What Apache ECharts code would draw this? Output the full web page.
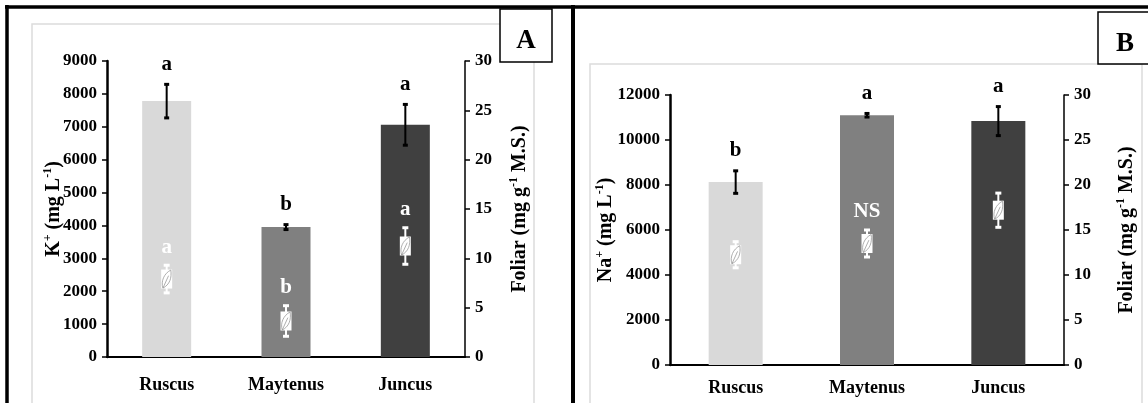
<!DOCTYPE html>
<html>
<head>
<meta charset="utf-8">
<script src="https://cdn.jsdelivr.net/npm/echarts@6/dist/echarts.min.js"></script>
<style>
html, body { margin: 0; padding: 0; background: #fff; }
#main { width: 1148px; height: 403px; }
</style>
</head>
<body>
<div id="main"></div>
<script>
// data
var categories = ['Ruscus', 'Maytenus', 'Juncus'];
var barColors = ['#d9d9d9', '#808080', '#404040'];

// panel A : K+
var kValues = [7780, 3950, 7060];
var kErr = [510, 75, 620];
var kLetters = ['a', 'b', 'a'];
var kFoliar = [7.9, 3.65, 11.25];
var kFoliarErr = [1.4, 1.55, 1.85];
var kFoliarLetters = ['a', 'b', 'a'];
var kMax = 9000, kStep = 1000;

// panel B : Na+
var naValues = [8130, 11100, 10840];
var naErr = [500, 80, 645];
var naLetters = ['b', 'a', 'a'];
var naFoliar = [12.25, 13.5, 17.2];
var naFoliarErr = [1.45, 1.5, 1.9];
var naFoliarLetters = ['', 'NS', ''];
var naMax = 12000, naStep = 2000;

var foliarMax = 30, foliarStep = 5;

var FONT = '"Liberation Serif", "Times New Roman", serif';

// build [index, low, high, mean] rows for error bars
function errRows(vals, errs) {
	return vals.map(function (v, i) { return [i, v - errs[i], v + errs[i], v]; });
}

function barData(vals) {
	return vals.map(function (v, i) {
		return { value: v, itemStyle: { color: barColors[i] } };
	});
}

function nameRich() {
	return {
		b: { fontFamily: FONT, fontWeight: 'bold', fontSize: 20, color: '#000', lineHeight: 24 },
		s: { fontFamily: FONT, fontWeight: 'bold', fontSize: 12, color: '#000', verticalAlign: 'top', lineHeight: 24 }
	};
}

function valueAxis(grid, max, step, pos, name, gap, lineW) {
	return {
		type: 'value', gridIndex: grid, position: pos,
		min: 0, max: max, interval: step,
		name: name, nameLocation: 'middle', nameRotate: 90, nameGap: gap,
		nameMoveOverlap: false,
		nameTextStyle: { rich: nameRich() },
		axisLine: { show: true, lineStyle: { color: '#000', width: lineW } },
		axisTick: { show: true, length: 5, lineStyle: { color: '#000', width: 1.5 } },
		axisLabel: { color: '#000', fontFamily: FONT, fontWeight: 'bold', fontSize: 17, margin: 10,
			formatter: function (v) { return String(v); } },
		splitLine: { show: false }
	};
}

function catAxis(grid, margin) {
	return {
		type: 'category', gridIndex: grid, data: categories,
		axisLine: { lineStyle: { color: '#000', width: 2 } },
		axisTick: { length: 6, lineStyle: { color: '#000', width: 1.5 } },
		axisLabel: { color: '#000', fontFamily: FONT, fontWeight: 'bold', fontSize: 18, margin: margin }
	};
}

// error bar for the main bars, letter above
function barErrRender(letters) {
	return function (params, api) {
		var hi = api.coord([api.value(0), api.value(2)]);
		var lo = api.coord([api.value(0), api.value(1)]);
		var x = hi[0];
		return {
			type: 'group',
			children: [
				{ type: 'line', shape: { x1: x, y1: hi[1], x2: x, y2: lo[1] }, style: { stroke: '#000', lineWidth: 2 } },
				{ type: 'rect', shape: { x: x - 2.5, y: hi[1] - 1.5, width: 5, height: 3 }, style: { fill: '#000' } },
				{ type: 'rect', shape: { x: x - 2.5, y: lo[1] - 1.5, width: 5, height: 3 }, style: { fill: '#000' } },
				{ type: 'text', style: { text: letters[params.dataIndex], x: x, y: hi[1] - 20,
					align: 'center', verticalAlign: 'middle', textAlign: 'center', textVerticalAlign: 'middle',
					fill: '#000', font: 'bold 21px ' + FONT } }
			]
		};
	};
}

// leaf marker for foliar content, white error bar, white letter
function foliarRender(letters) {
	return function (params, api) {
		var hi = api.coord([api.value(0), api.value(2)]);
		var lo = api.coord([api.value(0), api.value(1)]);
		var mid = api.coord([api.value(0), api.value(3)]);
		var x = hi[0];
		return {
			type: 'group',
			children: [
				{ type: 'line', shape: { x1: x, y1: hi[1], x2: x, y2: lo[1] }, style: { stroke: '#fff', lineWidth: 2 } },
				{ type: 'rect', shape: { x: x - 3, y: hi[1] - 1.5, width: 6, height: 3 }, style: { fill: '#fff' } },
				{ type: 'rect', shape: { x: x - 3, y: lo[1] - 1.5, width: 6, height: 3 }, style: { fill: '#fff' } },
				{ type: 'rect', shape: { x: x - 5.5, y: mid[1] - 9.5, width: 11, height: 19 }, style: { fill: '#fff' } },
				{ type: 'path', shape: { pathData: 'M2 17 C0 11 3 4 9 1 C10 8 8 14 2 17 Z M2 17 L7 6',
					x: x - 5, y: mid[1] - 9, width: 10, height: 18 },
					style: { fill: 'none', stroke: '#9a9a9a', lineWidth: 0.8 } },
				{ type: 'text', style: { text: letters[params.dataIndex], x: x, y: hi[1] - 18,
					align: 'center', verticalAlign: 'middle', textAlign: 'center', textVerticalAlign: 'middle',
					fill: '#fff', font: 'bold 21px ' + FONT } }
			]
		};
	};
}

var myChart = echarts.init(document.getElementById('main'));

var option = {
	animation: false,
	backgroundColor: '#fff',
	grid: [
		{ left: 107, top: 61, width: 358, height: 296, outerBoundsMode: 'none' },
		{ left: 670, top: 95, width: 394, height: 270, outerBoundsMode: 'none' }
	],
	xAxis: [catAxis(0, 19), catAxis(1, 14)],
	yAxis: [
		valueAxis(0, kMax, kStep, 'left', '{b|K}{s|+}{b| (mg L}{s|-1}{b|)}', 41, 2.5),
		valueAxis(0, foliarMax, foliarStep, 'right', '{b|Foliar (mg g}{s|-1}{b| M.S.)}', 43, 1.5),
		valueAxis(1, naMax, naStep, 'left', '{b|Na}{s|+}{b| (mg L}{s|-1}{b|)}', 52, 2.5),
		valueAxis(1, foliarMax, foliarStep, 'right', '{b|Foliar (mg g}{s|-1}{b| M.S.)}', 51, 1.5)
	],
	series: [
		{ type: 'bar', xAxisIndex: 0, yAxisIndex: 0, barWidth: 49, data: barData(kValues), z: 2 },
		{ type: 'custom', xAxisIndex: 0, yAxisIndex: 0, data: errRows(kValues, kErr),
			renderItem: barErrRender(kLetters), z: 3 },
		{ type: 'custom', xAxisIndex: 0, yAxisIndex: 1, data: errRows(kFoliar, kFoliarErr),
			renderItem: foliarRender(kFoliarLetters), z: 4 },
		{ type: 'bar', xAxisIndex: 1, yAxisIndex: 2, barWidth: 54, data: barData(naValues), z: 2 },
		{ type: 'custom', xAxisIndex: 1, yAxisIndex: 2, data: errRows(naValues, naErr),
			renderItem: barErrRender(naLetters), z: 3 },
		{ type: 'custom', xAxisIndex: 1, yAxisIndex: 3, data: errRows(naFoliar, naFoliarErr),
			renderItem: foliarRender(naFoliarLetters), z: 4 }
	],
	graphic: [
		// light plot-area borders
		{ type: 'rect', shape: { x: 32, y: 24, width: 502, height: 420 }, style: { fill: 'none', stroke: '#dcdcdc', lineWidth: 1.5 }, z: 0 },
		{ type: 'rect', shape: { x: 590, y: 64, width: 552, height: 420 }, style: { fill: 'none', stroke: '#dcdcdc', lineWidth: 1.5 }, z: 0 },
		// outer black frame
		{ type: 'line', shape: { x1: 5, y1: 7, x2: 1148, y2: 7 }, style: { stroke: '#000', lineWidth: 3.5 }, z: 10 },
		{ type: 'line', shape: { x1: 7, y1: 5, x2: 7, y2: 403 }, style: { stroke: '#000', lineWidth: 3.5 }, z: 10 },
		{ type: 'line', shape: { x1: 573, y1: 5, x2: 573, y2: 403 }, style: { stroke: '#000', lineWidth: 4 }, z: 10 },
		// panel tags
		{ type: 'rect', shape: { x: 500, y: 9, width: 52, height: 53 }, style: { fill: '#fff', stroke: '#000', lineWidth: 1.5 }, z: 10 },
		{ type: 'text', x: 526, y: 41, style: { text: 'A', font: 'bold 27px ' + FONT, fill: '#000', align: 'center', verticalAlign: 'middle' }, z: 11 },
		{ type: 'rect', shape: { x: 1098, y: 12, width: 56, height: 52 }, style: { fill: '#fff', stroke: '#000', lineWidth: 1.5 }, z: 10 },
		{ type: 'text', x: 1125, y: 44, style: { text: 'B', font: 'bold 27px ' + FONT, fill: '#000', align: 'center', verticalAlign: 'middle' }, z: 11 }
	]
};

myChart.setOption(option);
</script>
</body>
</html>
